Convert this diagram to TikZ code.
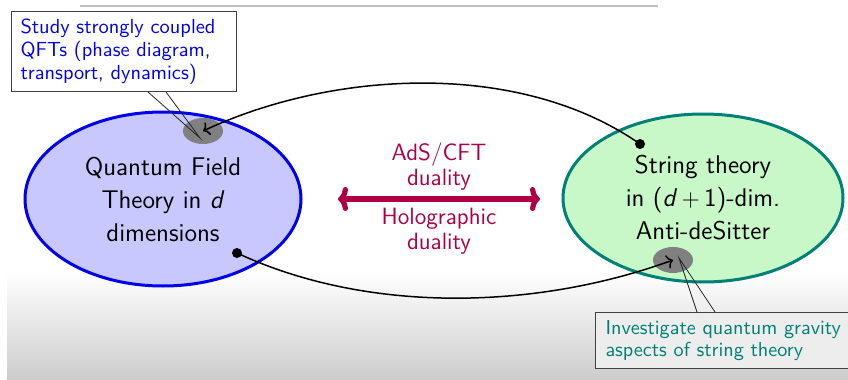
\documentclass[tikz,border=0pt]{standalone}
\usepackage{tikz}
\usetikzlibrary{shapes,
                 calc,
                 arrows.meta
  }

\definecolor{qftblue}{RGB}{0,0,235}
\definecolor{qftfill}{RGB}{200,200,255}
\definecolor{adsteal}{RGB}{0,128,118}
\definecolor{adsfill}{RGB}{200,248,200}
\definecolor{dualred}{RGB}{175,0,70}
\definecolor{spotgray}{RGB}{128,128,128}

\begin{document}
\begin{tikzpicture}[
      x=0.5pt, y=0.5pt,
      theory/.style={
                ellipse,
                line width=1.5pt,
                inner sep=0pt,
                align=center,
                font=\sffamily\fontsize{12.8}{16.5}\selectfont
                },
      spot/.style={
                ellipse,
                fill=spotgray,
                inner sep=0pt,
                minimum width=20pt,
                minimum height=13pt
                },
      dot/.style={circle, fill=black, inner sep=0pt, minimum size=5pt},
      link/.style={line width=0.75pt, -{To[length=3pt,width=7pt]}},
      note/.style={
                rectangle,
                draw=black!75,
                line width=0.5pt,
                fill=white,
                anchor=north west,
                align=left,
                inner ysep=0pt,
                font=\sffamily\fontsize{10.2}{11.4}\selectfont
                },
      pointer/.style={draw=black!85, line width=0.4pt},
      duality/.style={text=dualred, align=center, font=\sffamily\fontsize{11.8}{12.5}\selectfont},
      every node/.style={font=\sffamily}
]

\useasboundingbox (0,0) rectangle (848,-380);

% screen background
\shade[top color=white, bottom color=black!20] (7,-272) rectangle (848,-380);
\draw[black!25, line width=0.6pt] (80,-6) -- (658,-6);

% the two theories
\node[theory, draw=qftblue, fill=qftfill, minimum width=138pt, minimum height=87pt]
      (qft) at (163,-199) {Quantum Field\\Theory in \textit{d}\\dimensions};
\node[theory, draw=adsteal, fill=adsfill, minimum width=140pt, minimum height=84pt]
      (ads) at (703,-198) {String theory\\in (\textit{d}\,$+$\,1)-dim.\\Anti-deSitter};

\node[spot] (qftspot) at (203,-131) {};
\node[spot] (adsspot) at (673,-260) {};

\node[dot] (adsdot) at (640,-144) {};
\node[dot] (qftdot) at (237,-253) {};

\draw[link] (adsdot.center) to[out=145, in=25, looseness=0.85] (qftspot.center);
\draw[link] (qftdot.center) to[out=-25, in=200, looseness=0.85] (adsspot.center);

% duality arrow
\coordinate (dualL) at (338,-199);
\coordinate (dualR) at (540,-199);
\draw[dualred, line width=2.6pt, {To[length=5pt,width=12pt]}-{To[length=5pt,width=12pt]}] (dualL) -- (dualR);
\node[duality] (adscft) at (439,-167) {AdS/CFT\\duality};
\node[duality] (holo) at (439,-231) {Holographic\\duality};

% callouts
\node[note, text=qftblue, minimum width=112.5pt, minimum height=40pt, inner xsep=4.5pt, text width=103.5pt]
      (qftnote) at (11,-11) {Study strongly coupled\\QFTs (phase diagram,\\transport, dynamics)};
\node[note, text=adsteal, fill=black!7, minimum width=126pt, minimum height=28pt, inner xsep=5pt, text width=124pt,
      font=\sffamily\fontsize{10.1}{11}\selectfont]
      (adsnote) at (595,-312) {Investigate quantum gravity\\aspects of string theory};

\coordinate (qfttip) at (200,-138);
\coordinate (adstip) at (679,-258);
\draw[pointer] ($(qftnote.south west)+(137,0)$) -- (qfttip) -- ($(qftnote.south west)+(155,0)$);
\draw[pointer] ($(adsnote.north west)+(102,0)$) -- (adstip) -- ($(adsnote.north west)+(120,0)$);

\end{tikzpicture}
\end{document}
